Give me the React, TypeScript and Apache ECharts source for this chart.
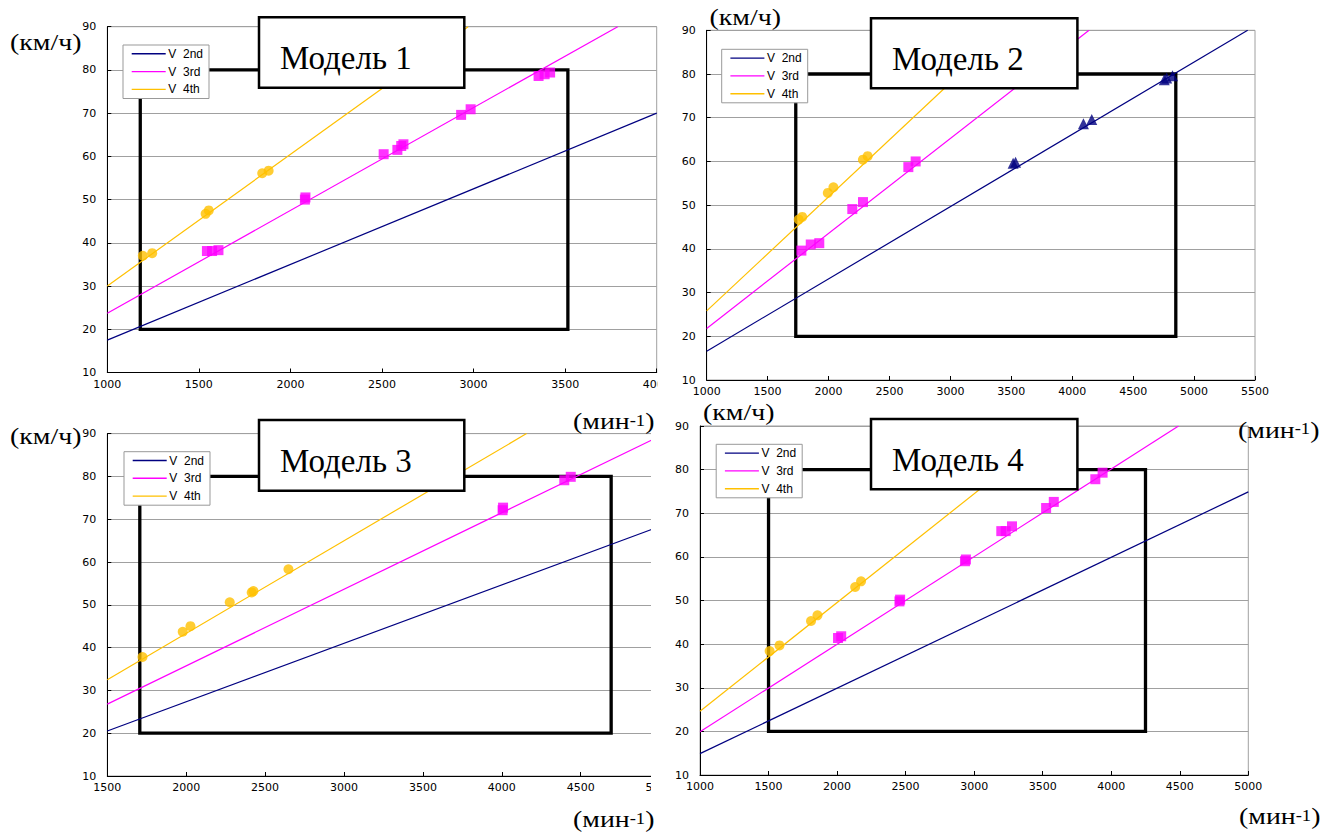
import React, { useEffect, useRef } from "react";
import * as echarts from "echarts";

const NAVY = "#000080";
const MAGENTA = "#FF00FF";
const ORANGE = "#FFC000";

const SERIES_NAMES = ["V  2nd", "V  3rd", "V  4th"];
const TITLES = ["Модель 1", "Модель 2", "Модель 3", "Модель 4"];
const Y_RANGE = [10, 90];
const BOX_SPEED = [20, 80];

// ---- Модель 1 ----
const m1Rpm = [1000, 4000];
const m1Line2nd = [[1000, 17.5], [4000, 70.0]];
const m1Line3rd = [[1000, 23.7], [3787, 90.0]];
const m1Line4th = [[1000, 30.0], [2970, 90.0]];
const m1Pts2nd: number[][] = [];
const m1Pts3rd = [
  [1544, 38.1], [1572, 38.1], [1607, 38.3], [2079, 50.0], [2082, 50.5],
  [2509, 60.5], [2584, 61.5], [2605, 62.4], [2617, 62.8], [2932, 69.6],
  [2984, 70.9], [3355, 78.6], [3388, 79.0], [3418, 79.4],
];
const m1Pts4th = [
  [1194, 37.0], [1245, 37.6], [1537, 46.7], [1554, 47.5], [1846, 56.1], [1881, 56.7],
];
const m1BoxRpm = [1180, 3515];

// ---- Модель 2 ----
const m2Rpm = [1000, 5500];
const m2Line2nd = [[1000, 16.6], [5440, 90.0]];
const m2Line3rd = [[1000, 21.8], [4138, 90.0]];
const m2Line4th = [[1000, 25.8], [3460, 90.0]];
const m2Pts2nd = [
  [3515, 59.6], [3535, 59.8], [4092, 68.6], [4160, 69.6],
  [4755, 78.7], [4775, 79.1], [4823, 79.6],
];
const m2Pts3rd = [
  [1777, 39.6], [1854, 41.0], [1924, 41.3], [2195, 49.1], [2283, 50.7],
  [2655, 58.7], [2715, 60.0],
];
const m2Pts4th = [
  [1755, 46.7], [1784, 47.3], [1994, 52.8], [2040, 54.1], [2282, 60.4], [2321, 61.2],
];
const m2BoxRpm = [1731, 4850];

// ---- Модель 3 ----
const m3Rpm = [1500, 5000];
const m3Line2nd = [[1500, 20.5], [5000, 68.3]];
const m3Line3rd = [[1500, 26.8], [5000, 89.4]];
const m3Line4th = [[1500, 32.5], [4157, 90.0]];
const m3Pts2nd: number[][] = [];
const m3Pts3rd = [[4005, 72.1], [4008, 72.7], [4396, 79.1], [4437, 79.9]];
const m3Pts4th = [
  [1723, 37.8], [1978, 43.7], [2027, 45.0], [2276, 50.6], [2415, 52.9],
  [2426, 53.2], [2648, 58.3],
];
const m3BoxRpm = [1706, 4693];

// ---- Модель 4 ----
const m4Rpm = [1000, 5000];
const m4Line2nd = [[1000, 14.9], [5000, 74.9]];
const m4Line3rd = [[1000, 19.9], [4491, 90.0]];
const m4Line4th = [[1000, 24.6], [3623, 90.0]];
const m4Pts2nd: number[][] = [];
const m4Pts3rd = [
  [2007, 41.4], [2030, 41.8], [2455, 49.8], [2460, 50.2], [2933, 59.0],
  [2940, 59.4], [3198, 65.9], [3230, 65.9], [3276, 67.0], [3525, 71.2],
  [3581, 72.6], [3884, 77.8], [3937, 79.3],
];
const m4Pts4th = [
  [1508, 38.4], [1580, 39.7], [1810, 45.3], [1857, 46.6], [2132, 53.1], [2175, 54.4],
];
const m4BoxRpm = [1500, 4250];

const MODELS = [
  { rpm: m1Rpm, lines: [m1Line2nd, m1Line3rd, m1Line4th], pts: [m1Pts2nd, m1Pts3rd, m1Pts4th], box: m1BoxRpm },
  { rpm: m2Rpm, lines: [m2Line2nd, m2Line3rd, m2Line4th], pts: [m2Pts2nd, m2Pts3rd, m2Pts4th], box: m2BoxRpm },
  { rpm: m3Rpm, lines: [m3Line2nd, m3Line3rd, m3Line4th], pts: [m3Pts2nd, m3Pts3rd, m3Pts4th], box: m3BoxRpm },
  { rpm: m4Rpm, lines: [m4Line2nd, m4Line3rd, m4Line4th], pts: [m4Pts2nd, m4Pts3rd, m4Pts4th], box: m4BoxRpm },
];

// ---- layout (pixels) ----
const LAYOUT = [
  { grid: { left: 107.3, top: 26.7, width: 549.4, height: 345.8 }, title: { x: 259, y: 17.3, w: 205.3, h: 70.4 }, legend: { x: 123, y: 45 }, km: { x: 10, y: 42.5 }, mn: { x: 573, y: 421.5 } },
  { grid: { left: 706.7, top: 30.3, width: 548.3, height: 349.7 }, title: { x: 871, y: 18.3, w: 206.4, h: 70 }, legend: { x: 721.7, y: 49.3 }, km: { x: 709.5, y: 17 }, mn: { x: 1238, y: 430 } },
  { grid: { left: 107.3, top: 433.6, width: 552.3, height: 342.4 }, title: { x: 259, y: 420, w: 205.3, h: 70.7 }, legend: { x: 124, y: 451.7 }, km: { x: 10, y: 436.5 }, mn: { x: 573, y: 819.5 } },
  { grid: { left: 700, top: 426, width: 548.3, height: 349 }, title: { x: 871, y: 419, w: 206.4, h: 70.3 }, legend: { x: 716.2, y: 444.3 }, km: { x: 703, y: 411.7 }, mn: { x: 1239, y: 816.5 } },
];

const COLORS = [NAVY, MAGENTA, ORANGE];
const SYMBOLS = ["triangle", "rect", "circle"];
const SYMBOL_SIZES = [11, 10, 10];
const SANS = "DejaVu Sans, Liberation Sans, Arial, sans-serif";
const LEG_FONT = "Liberation Sans, Arial, sans-serif";
const SERIF = "Liberation Serif, Times New Roman, serif";
const GRID_GRAY = "#a0a0a0";

function buildOption() {
  const grid = LAYOUT.map((l) => ({
    ...l.grid,
    show: true,
    borderColor: GRID_GRAY,
    borderWidth: 1,
    backgroundColor: "transparent",
    containLabel: false,
    outerBoundsMode: "none",
  }));
  const xAxis = MODELS.map((m, i) => ({
    type: "value",
    gridIndex: i,
    min: m.rpm[0],
    max: m.rpm[1],
    interval: 500,
    axisLine: { show: true, onZero: false, lineStyle: { color: "#000", width: 1 } },
    axisTick: { show: true, inside: true, length: 4, lineStyle: { color: "#000" } },
    axisLabel: {
      fontSize: 11,
      fontFamily: SANS,
      color: "#000",
      margin: 6,
      showMinLabel: true,
      showMaxLabel: true,
      formatter: (v: number) => String(v),
    },
    splitLine: { show: false },
  }));
  const yAxis = MODELS.map((m, i) => ({
    type: "value",
    gridIndex: i,
    min: Y_RANGE[0],
    max: Y_RANGE[1],
    interval: 10,
    axisLine: { show: true, onZero: false, lineStyle: { color: "#000", width: 1 } },
    axisTick: { show: true, inside: true, length: 4, lineStyle: { color: "#000" } },
    axisLabel: { fontSize: 11, fontFamily: SANS, color: "#000", margin: 11, formatter: (v: number) => String(v) },
    splitLine: { show: true, lineStyle: { color: GRID_GRAY, width: 1 } },
  }));

  const series: any[] = [];
  MODELS.forEach((m, i) => {
    series.push({
      type: "line",
      name: "box" + (i + 1),
      xAxisIndex: i,
      yAxisIndex: i,
      data: [
        [m.box[0], BOX_SPEED[0]], [m.box[0], BOX_SPEED[1]], [m.box[1], BOX_SPEED[1]],
        [m.box[1], BOX_SPEED[0]], [m.box[0], BOX_SPEED[0]],
      ],
      symbol: "none",
      silent: true,
      lineStyle: { color: "#000", width: 3.3, join: "miter", cap: "square" },
      z: 2,
    });
    m.lines.forEach((ln, k) => {
      series.push({
        type: "line",
        name: SERIES_NAMES[k],
        xAxisIndex: i,
        yAxisIndex: i,
        data: ln,
        symbol: "none",
        silent: true,
        lineStyle: { color: COLORS[k], width: 1.2 },
        z: 3,
      });
    });
    m.pts.forEach((p, k) => {
      if (!p.length) return;
      series.push({
        type: "scatter",
        name: SERIES_NAMES[k] + " data",
        xAxisIndex: i,
        yAxisIndex: i,
        data: p,
        symbol: SYMBOLS[k],
        symbolSize: SYMBOL_SIZES[k],
        itemStyle: { color: COLORS[k] },
        silent: true,
        z: 4,
      });
    });
  });

  const graphic: any[] = [
    // crop covers for the cut-off left panels
    { type: "rect", shape: { x: 657.4, y: 380, width: 16, height: 22 }, style: { fill: "#fff" }, z: 90, silent: true },
    { type: "rect", shape: { x: 651, y: 426, width: 10.5, height: 352 }, style: { fill: "#fff" }, z: 90, silent: true },
    { type: "rect", shape: { x: 651, y: 779, width: 23, height: 18 }, style: { fill: "#fff" }, z: 90, silent: true },
  ];

  LAYOUT.forEach((l, i) => {
    graphic.push({
      type: "rect",
      shape: { x: l.title.x, y: l.title.y, width: l.title.w, height: l.title.h },
      style: { fill: "#fff", stroke: "#000", lineWidth: 2.5 },
      z: 100,
      silent: true,
    });
    graphic.push({
      type: "text",
      x: l.title.x + 21,
      y: l.title.y + 40.8,
      style: { text: TITLES[i], fontSize: 33, fontFamily: SERIF, fill: "#000", align: "left", verticalAlign: "middle" },
      z: 101,
      silent: true,
    });
    const lx = l.legend.x;
    const ly = l.legend.y;
    graphic.push({
      type: "rect",
      shape: { x: lx, y: ly, width: 86, height: 53.5 },
      style: { fill: "#fff", stroke: "#999", lineWidth: 1 },
      z: 100,
      silent: true,
    });
    const rows = [8.8, 26.6, 44.4];
    SERIES_NAMES.forEach((nm, k) => {
      graphic.push({
        type: "line",
        shape: { x1: lx + 8.7, y1: ly + rows[k], x2: lx + 42.7, y2: ly + rows[k] },
        style: { stroke: COLORS[k], lineWidth: 1.4 },
        z: 101,
        silent: true,
      });
      graphic.push({
        type: "text",
        x: lx + 45.3,
        y: ly + rows[k],
        style: { text: nm, fontSize: 12, fontFamily: LEG_FONT, fill: "#000", align: "left", verticalAlign: "middle" },
        z: 101,
        silent: true,
      });
    });
    graphic.push({
      type: "text",
      x: l.km.x,
      y: l.km.y,
      scaleX: 1.16,
      style: { text: "(км/ч)", fontSize: 24, fontFamily: SERIF, fill: "#000", align: "left", verticalAlign: "middle" },
      z: 110,
      silent: true,
    });
    graphic.push({
      type: "text",
      x: l.mn.x,
      y: l.mn.y,
      scaleX: 1.16,
      style: {
        text: "{a|(мин}{b|-1}{a|)}",
        fill: "#000",
        align: "left",
        verticalAlign: "middle",
        rich: {
          a: { fontSize: 24, fontFamily: SERIF, fill: "#000" },
          b: { fontSize: 16, fontFamily: SERIF, fill: "#000", verticalAlign: "top", padding: [3, 0, 0, 0] },
        },
      },
      z: 110,
      silent: true,
    });
  });

  return {
    animation: false,
    backgroundColor: "#fff",
    grid,
    xAxis,
    yAxis,
    series,
    graphic: { elements: graphic },
  };
}

export default function App() {
  const ref = useRef<HTMLDivElement>(null);
  useEffect(() => {
    if (!ref.current) return;
    const chart = echarts.init(ref.current, undefined, { renderer: "svg" });
    chart.setOption(buildOption() as any);
    return () => chart.dispose();
  }, []);
  return (
    <div
      ref={ref}
      style={{ position: "fixed", left: 0, top: 0, width: 1338, height: 838, background: "#fff" }}
    />
  );
}
